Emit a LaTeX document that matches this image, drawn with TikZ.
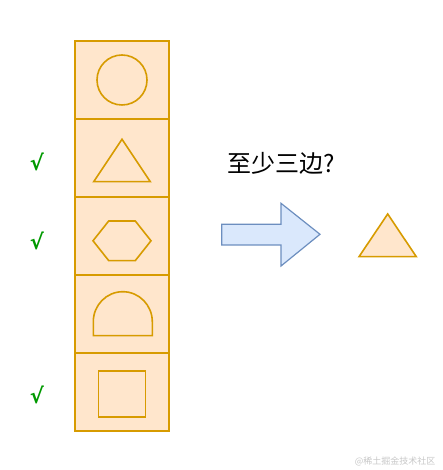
\documentclass[tikz,border=0pt]{standalone}
\usepackage{fontspec}
\setmainfont{Liberation Sans}
\newfontfamily\cjk{Noto Sans CJK SC}
\newfontfamily\symb{DejaVu Sans}
\usetikzlibrary{positioning}
\definecolor{boxfill}{HTML}{FFE6CC}
\definecolor{boxline}{HTML}{D79B00}
\definecolor{arrowfill}{HTML}{DAE8FC}
\definecolor{arrowline}{HTML}{6C8EBF}
\definecolor{checkgreen}{HTML}{009900}
\begin{document}
\begin{tikzpicture}[x=1pt,y=1pt]
\tikzstyle{cell} = [rectangle, minimum width=94pt, minimum height=78pt, inner sep=0pt, outer sep=0pt, draw=boxline, fill=boxfill, line width=1.5pt]
\tikzstyle{figure} = [draw=boxline, fill=boxfill, line width=1.6pt, line join=miter]
\tikzstyle{tick} = [text=checkgreen, font=\symb\bfseries\fontsize{21}{21}\selectfont, inner sep=0pt]
\tikzstyle{empty}=[]

\useasboundingbox (0,0) rectangle (442,470);

%cells
\node (CA) [cell] at (122,390) {};
\node (CB) [cell, below=0pt of CA] {};
\node (CC) [cell, below=0pt of CB] {};
\node (CD) [cell, below=0pt of CC] {};
\node (CE) [cell, below=0pt of CD] {};

%shapes in the cells
\draw [figure] (CA.center) circle (25);
\begin{scope}[shift={(CB.center)}]
\draw [figure] (0,18.7) -- (28.3,-23.7) -- (-28.3,-23.7) -- cycle;
\end{scope}
\begin{scope}[shift={(CC.center)}]
\draw [figure] (-29,-4.8) -- (-13.3,15) -- (13.3,15) -- (29,-4.8) -- (13.3,-24.6) -- (-13.3,-24.6) -- cycle;
\end{scope}
\begin{scope}[shift={(CD.center)}]
\draw [figure] (-28.7,-21.7) -- (-28.7,-7.7) arc[start angle=180, end angle=0, x radius=29.5, y radius=30] -- (30.3,-21.7) -- cycle;
\end{scope}
\begin{scope}[shift={(CE.center)}]
\draw [figure] (-23.5,21) rectangle (23.5,-25.3);
\end{scope}

%checks
\node (TB) [tick, left=31pt of CB, yshift=-4pt] {√};
\node (TC) [tick, left=31pt of CC, yshift=-5pt] {√};
\node (TE) [tick, left=31pt of CE, yshift=-3pt] {√};

%question and arrow
\node (Q) [empty, font=\cjk\fontsize{24}{24}\selectfont] at (281.5,307) {至少三边?};
\draw [fill=arrowfill, draw=arrowline, line width=1.2pt] (221.7,245.7) -- (281,245.7) -- (281,266.7) -- (320,235.7) -- (281,204) -- (281,225) -- (221.7,225) -- cycle;

%result
\draw [figure] (387.7,256) -- (416.3,213.3) -- (359,213.3) -- cycle;

%watermark
\node (W) [empty, text=black!22, font=\cjk\fontsize{9}{9}\selectfont, anchor=east] at (439,9) {@稀土掘金技术社区};
\end{tikzpicture}
\end{document}
